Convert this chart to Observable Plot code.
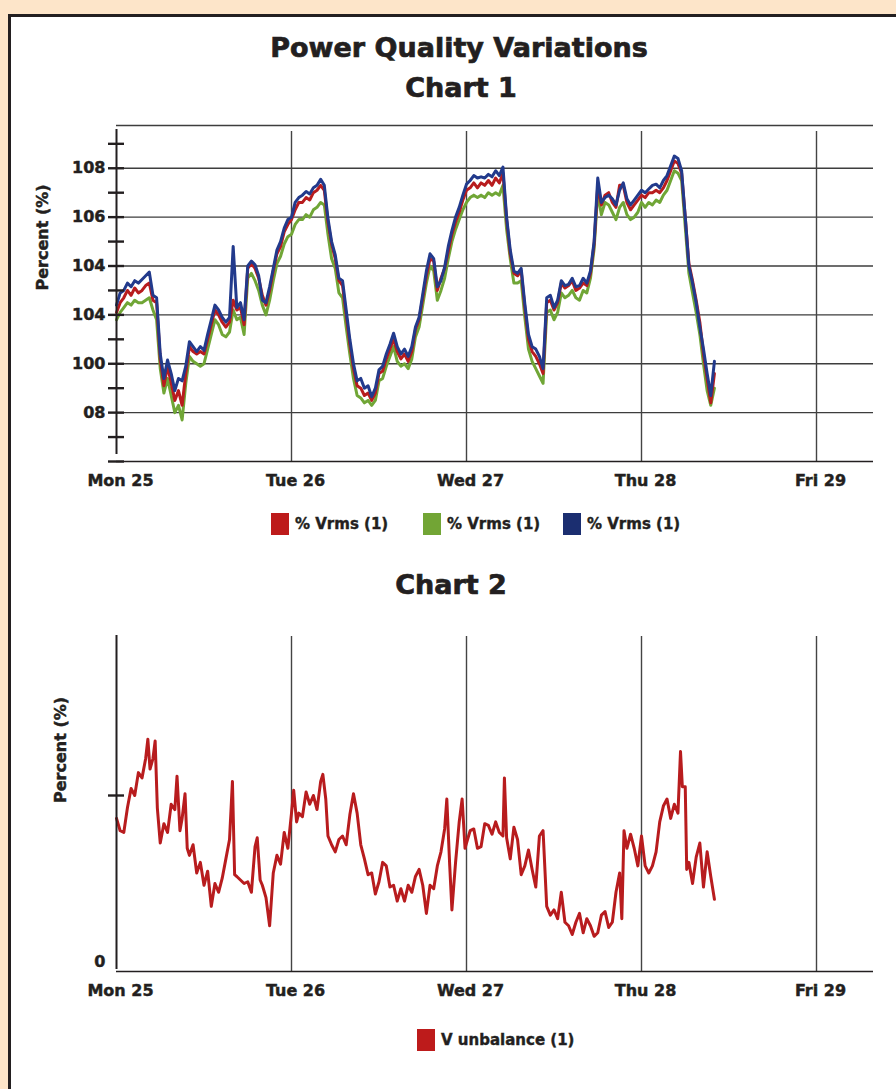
<!DOCTYPE html>
<html>
<head>
<meta charset="utf-8">
<script src="https://cdn.jsdelivr.net/npm/d3@7"></script>
<script src="https://cdn.jsdelivr.net/npm/@observablehq/plot@0.6"></script>
<style>
  html, body { margin: 0; padding: 0; }
  body { width: 896px; height: 1089px; overflow: hidden; position: relative; background: #fde5c9;
         font-family: "DejaVu Sans", "Liberation Sans", Arial, sans-serif; font-weight: bold; color: #231f20; }
  #panel { position: absolute; left: 8px; top: 14px; width: 940px; height: 1120px; background: #fff;
           border: 3px solid #231f20; box-sizing: border-box; }
  .abs { position: absolute; white-space: nowrap; line-height: 1; }
  .ttl { font-size: 27px; -webkit-text-stroke: 0.7px #231f20; text-align: center; }
  .leg { font-size: 15px; -webkit-text-stroke: 0.4px #231f20; }
  .sw { position: absolute; width: 18px; height: 22px; }
  .chart { position: absolute; left: 0; }
  .chart svg text { stroke: #231f20; stroke-width: 0.45px; }
</style>
</head>
<body>
<div id="panel"></div>
<div class="abs ttl" style="top:34px;left:0;width:918px">Power Quality Variations</div>
<div class="abs ttl" style="top:74px;left:0;width:922px">Chart 1</div>
<div id="c1" class="chart" style="top:110px"></div>
<div id="leg1"></div>
<div class="abs ttl" style="top:571px;left:0;width:902px">Chart 2</div>
<div id="c2" class="chart" style="top:615px"></div>
<div id="leg2"></div>
<script>
// ---------- data ----------
const dayTicks = [0, 1, 2, 3, 4];
const dayLabels = ["Mon 25", "Tue 26", "Wed 27", "Thu 28", "Fri 29"];

// Chart 1 : half-hourly samples from Mon 25 00:00
const blueVrms = [
  102.4,102.9,103.0,103.3,103.15,103.4,103.3,103.45,103.6,103.75,
  102.8,102.7,100.4,99.4,100.15,99.6,98.9,99.4,99.3,99.9,
  100.9,100.7,100.5,100.7,100.55,101.2,101.8,102.4,102.2,101.9,
  101.7,101.9,104.8,102.3,102.5,101.8,104.0,104.2,104.05,103.6,
  102.6,102.5,103.15,103.9,104.65,105.0,105.55,105.9,106.0,106.6,
  106.8,106.9,107.05,106.95,107.2,107.3,107.55,107.3,105.95,105.0,
  104.45,103.5,103.4,102.2,101.0,100.0,99.3,99.4,99.0,99.1,
  98.65,99.0,99.75,99.9,100.4,100.8,101.25,100.7,100.4,100.6,
  100.3,100.7,101.5,101.9,102.85,103.8,104.5,104.3,103.15,103.4,
  103.95,104.8,105.45,106.0,106.4,106.9,107.35,107.5,107.7,107.6,
  107.65,107.6,107.75,107.65,107.9,107.7,108.05,106.0,104.65,103.8,
  103.7,103.9,102.45,101.2,100.7,100.6,100.3,99.8,102.7,102.8,
  102.3,102.6,103.4,103.2,103.25,103.5,103.15,103.2,103.5,103.3,
  103.8,105.0,107.6,106.6,106.8,106.9,106.75,106.5,107.1,107.4,
  106.75,106.5,106.7,106.9,107.1,107.0,107.15,107.3,107.35,107.2,
  107.5,107.7,108.1,108.5,108.4,107.9,106.0,104.0,103.3,102.5,
  101.5,100.6,99.6,98.7,100.1];
const redVrms = [
  102.1,102.5,102.7,103.0,102.8,103.1,102.9,103.0,103.2,103.3,
  102.6,102.5,100.2,99.1,99.9,99.2,98.5,98.9,98.3,99.6,
  100.7,100.5,100.4,100.5,100.4,101.0,101.6,102.2,102.0,101.7,
  101.5,101.7,102.6,102.2,102.3,101.6,103.9,104.1,103.9,103.5,
  102.8,102.4,103.0,103.8,104.5,104.8,105.4,105.7,105.9,106.3,
  106.6,106.6,106.8,106.7,107.0,107.1,107.3,107.1,105.8,104.9,
  104.3,103.4,103.2,102.0,100.8,99.8,99.1,99.0,98.7,98.8,
  98.5,98.8,99.6,99.7,100.2,100.6,101.0,100.5,100.2,100.4,
  100.1,100.5,101.4,101.8,102.7,103.6,104.3,104.2,103.0,103.5,
  103.9,104.6,105.3,105.8,106.2,106.7,107.1,107.2,107.4,107.2,
  107.4,107.3,107.5,107.3,107.6,107.4,107.8,105.9,104.5,103.7,
  103.6,103.8,102.3,101.0,100.5,100.3,100.0,99.6,102.5,102.6,
  102.2,102.5,103.3,103.1,103.2,103.4,103.0,103.1,103.3,103.2,
  103.7,104.9,107.3,106.5,106.9,107.0,106.6,106.4,107.3,107.3,
  106.6,106.3,106.5,106.7,106.9,106.8,107.0,107.0,107.1,107.0,
  107.2,107.5,107.9,108.3,108.2,107.8,106.0,104.1,103.4,102.6,
  101.7,100.4,99.4,98.4,99.6];
const greenVrms = [
  101.8,102.1,102.3,102.5,102.4,102.6,102.5,102.5,102.6,102.7,
  102.2,101.8,99.8,98.8,99.4,98.7,98.0,98.3,97.7,99.2,
  100.3,100.1,100.0,99.9,100.0,100.6,101.2,101.8,101.6,101.2,
  101.1,101.3,102.2,101.8,101.9,101.2,103.5,103.7,103.4,103.0,
  102.4,102.0,102.6,103.4,104.1,104.4,104.9,105.2,105.3,105.7,
  105.9,105.9,106.1,106.0,106.3,106.4,106.6,106.5,105.3,104.3,
  103.9,102.9,102.7,101.5,100.4,99.4,98.7,98.6,98.4,98.5,
  98.3,98.5,99.3,99.4,99.9,100.3,100.7,100.1,99.9,100.0,
  99.8,100.2,101.1,101.5,102.4,103.3,104.0,103.8,102.6,103.0,
  103.5,104.3,105.0,105.5,105.9,106.3,106.6,106.8,106.9,106.8,
  106.9,106.8,107.0,106.9,107.0,106.9,107.3,105.5,104.3,103.3,
  103.3,103.4,101.9,100.6,100.1,99.8,99.5,99.2,102.1,102.2,
  101.8,102.1,102.9,102.7,102.8,103.0,102.7,102.6,103.0,102.9,
  103.5,104.7,107.0,106.1,106.6,106.5,106.2,105.9,106.4,106.6,
  106.1,105.9,106.0,106.2,106.6,106.4,106.6,106.5,106.7,106.6,
  106.9,107.1,107.5,107.9,107.8,107.5,105.6,103.7,102.9,102.1,
  101.2,100.0,98.9,98.3,99.0];

const y1Grid = [98, 100, 102, 104, 106, 108];
const y1Labels = ["08", "100", "104", "104", "106", "108"];
const y1Ticks = [96, 97, 98, 99, 100, 101, 102, 103, 104, 105, 106, 107, 108, 109];

// Chart 2 : [hour from Mon 25 00:00, V unbalance]
const vUnbalance = [[0,0.87],[0.5,0.80],[1,0.79],[1.5,0.93],[2,1.04],[2.5,1.00],[3,1.13],[3.5,1.10],[4,1.21],[4.3,1.32],[4.6,1.15],[5,1.21],[5.3,1.31],[5.6,0.93],[6,0.73],[6.5,0.84],[7,0.79],[7.5,0.95],[8,0.92],[8.3,1.11],[8.7,0.80],[9,0.87],[9.4,1.01],[9.7,0.70],[10,0.66],[10.5,0.72],[11,0.56],[11.5,0.62],[12,0.49],[12.5,0.57],[13,0.37],[13.5,0.50],[14,0.45],[14.5,0.53],[15,0.64],[15.5,0.75],[15.9,1.08],[16.2,0.55],[16.5,0.54],[17,0.52],[17.5,0.50],[18,0.51],[18.5,0.45],[19,0.71],[19.3,0.76],[19.7,0.52],[20,0.49],[20.5,0.42],[21,0.26],[21.5,0.56],[22,0.66],[22.5,0.61],[23,0.79],[23.5,0.70],[24,0.90],[24.3,1.03],[24.7,0.85],[25,0.90],[25.5,0.88],[26,1.02],[26.5,0.95],[27,1.00],[27.5,0.92],[28,1.08],[28.3,1.12],[28.7,0.98],[29,0.77],[29.5,0.72],[30,0.68],[30.5,0.75],[31,0.77],[31.5,0.72],[32,0.89],[32.5,1.01],[33,0.90],[33.5,0.72],[34,0.64],[34.5,0.55],[35,0.56],[35.5,0.44],[36,0.51],[36.5,0.62],[37,0.60],[37.5,0.48],[38,0.49],[38.5,0.40],[39,0.47],[39.5,0.40],[40,0.49],[40.5,0.45],[41,0.54],[41.5,0.58],[42,0.49],[42.5,0.33],[43,0.49],[43.5,0.47],[44,0.60],[44.5,0.68],[45,0.81],[45.3,0.98],[45.7,0.60],[46,0.35],[46.5,0.62],[47,0.85],[47.4,0.98],[47.8,0.70],[48,0.73],[48.5,0.80],[49,0.81],[49.5,0.70],[50,0.71],[50.5,0.84],[51,0.83],[51.5,0.78],[52,0.85],[52.5,0.79],[53,0.77],[53.2,1.10],[53.5,0.76],[54,0.64],[54.5,0.82],[55,0.75],[55.5,0.55],[56,0.60],[56.5,0.69],[57,0.58],[57.5,0.48],[58,0.77],[58.5,0.80],[59,0.37],[59.5,0.32],[60,0.35],[60.5,0.30],[61,0.45],[61.5,0.28],[62,0.26],[62.5,0.21],[63,0.28],[63.5,0.33],[64,0.22],[64.5,0.30],[65,0.26],[65.5,0.20],[66,0.22],[66.5,0.32],[67,0.34],[67.5,0.25],[68,0.28],[68.5,0.45],[69,0.56],[69.3,0.30],[69.6,0.80],[70,0.70],[70.5,0.78],[71,0.70],[71.5,0.60],[72,0.77],[72.5,0.60],[73,0.56],[73.5,0.60],[74,0.68],[74.5,0.85],[75,0.94],[75.5,0.98],[76,0.87],[76.5,0.95],[77,0.90],[77.35,1.25],[77.6,1.05],[78,1.05],[78.2,0.58],[78.5,0.62],[79,0.50],[79.5,0.65],[80,0.73],[80.5,0.48],[81,0.68],[81.5,0.54],[82,0.41]];

const legend1 = ["% Vrms (1)", "% Vrms (1)", "% Vrms (1)"];
const legend2 = ["V unbalance (1)"];

// ---------- styles ----------
const colRed = "#b81c1e", colGreen = "#70a636", colBlue = "#223a8c";
const swRed = "#bd1b1b", swGreen = "#72a535", swBlue = "#1b2e70";
const ink = "#231f20", gridInk = "#3d3d3d";
const xDomain = [0, 4.3257];

// ---------- chart 1 ----------
const y1Domain = [96, 109.75];
const series1 = [
  {name: "green", values: greenVrms, color: colGreen},
  {name: "red", values: redVrms, color: colRed},
  {name: "blue", values: blueVrms, color: colBlue}
];
const y1LabelOf = new Map(y1Grid.map((v, i) => [v, y1Labels[i]]));
const lineMarks1 = series1.map(s =>
  Plot.line(s.values, {x: (d, i) => i / 48, y: d => d, stroke: s.color, strokeWidth: 3, strokeLinejoin: "round"}));

const chart1 = Plot.plot({
  width: 896, height: 400,
  marginLeft: 116, marginRight: 23, marginTop: 15, marginBottom: 49,
  x: {domain: xDomain},
  y: {domain: y1Domain},
  style: {fontFamily: "DejaVu Sans", fontWeight: "bold", color: ink, background: "transparent", overflow: "visible"},
  marks: [
    Plot.ruleY(y1Grid, {stroke: gridInk, strokeWidth: 1.4}),
    Plot.ruleY([y1Domain[1]], {stroke: gridInk, strokeWidth: 1.4}),
    Plot.ruleX(dayTicks.slice(1), {y1: y1Domain[0], y2: y1Domain[1], insetBottom: -6, stroke: "#444", strokeWidth: 1.4}),
    ...lineMarks1,
    Plot.ruleY([y1Domain[0]], {stroke: ink, strokeWidth: 1.6}),
    Plot.ruleX([0], {y1: y1Domain[0], y2: y1Domain[1], insetTop: -7, insetBottom: -4, stroke: ink, strokeWidth: 2}),
    Plot.ruleY(y1Ticks, {x1: 0, x2: 0, insetLeft: -8, insetRight: -8, stroke: ink, strokeWidth: 2.4}),
    Plot.axisX({ticks: dayTicks, tickFormat: d => dayLabels[d], tickSize: 0, tickPadding: 13, fontSize: 16, dx: 4}),
    Plot.axisY({ticks: y1Grid, tickFormat: d => y1LabelOf.get(d), tickSize: 0, tickPadding: 11, fontSize: 16, label: null}),
    Plot.text(["Percent (%)"], {frameAnchor: "left", dx: -74, dy: -3, rotate: -90, fontSize: 16, fill: ink})
  ]
});
document.getElementById("c1").append(chart1);

// ---------- chart 2 ----------
const y2Domain = [0, 1.9375];
const chart2 = Plot.plot({
  width: 896, height: 405,
  marginLeft: 116, marginRight: 23, marginTop: 15, marginBottom: 49,
  x: {domain: xDomain},
  y: {domain: y2Domain},
  style: {fontFamily: "DejaVu Sans", fontWeight: "bold", color: ink, background: "transparent", overflow: "visible"},
  marks: [
    Plot.ruleX(dayTicks.slice(1), {y1: y2Domain[0], y2: y2Domain[1], insetBottom: -6, stroke: "#444", strokeWidth: 1.4}),
    Plot.line(vUnbalance, {x: d => d[0] / 24, y: d => d[1], stroke: colRed, strokeWidth: 3, strokeLinejoin: "round"}),
    Plot.ruleY([0], {stroke: ink, strokeWidth: 1.6}),
    Plot.ruleX([0], {y1: y2Domain[0], y2: y2Domain[1], insetTop: -2, insetBottom: -5, stroke: ink, strokeWidth: 2}),
    Plot.ruleY([1], {x1: 0, x2: 0, insetLeft: -8, insetRight: -8, stroke: ink, strokeWidth: 2.4}),
    Plot.axisX({ticks: dayTicks, tickFormat: d => dayLabels[d], tickSize: 0, tickPadding: 13, fontSize: 16, dx: 4}),
    Plot.axisY({ticks: [0], tickFormat: d => String(d), tickSize: 0, tickPadding: 11, fontSize: 16, dy: -10, label: null}),
    Plot.text(["Percent (%)"], {frameAnchor: "left", dx: -56, dy: 2, rotate: -90, fontSize: 16, fill: ink})
  ]
});
document.getElementById("c2").append(chart2);

// ---------- legends ----------
function legend(containerId, items, swatchY, textY) {
  const host = document.getElementById(containerId);
  items.forEach(it => {
    const sw = document.createElement("div");
    sw.className = "sw";
    sw.style.left = it.x + "px"; sw.style.top = swatchY + "px"; sw.style.background = it.color;
    host.append(sw);
    const t = document.createElement("div");
    t.className = "abs leg";
    t.style.left = (it.x + 24) + "px"; t.style.top = textY + "px";
    t.textContent = it.label;
    host.append(t);
  });
}
legend("leg1", [
  {x: 271, color: swRed, label: legend1[0]},
  {x: 423, color: swGreen, label: legend1[1]},
  {x: 563, color: swBlue, label: legend1[2]}
], 513, 517);
legend("leg2", [{x: 417, color: swRed, label: legend2[0]}], 1029, 1033);
</script>
</body>
</html>
